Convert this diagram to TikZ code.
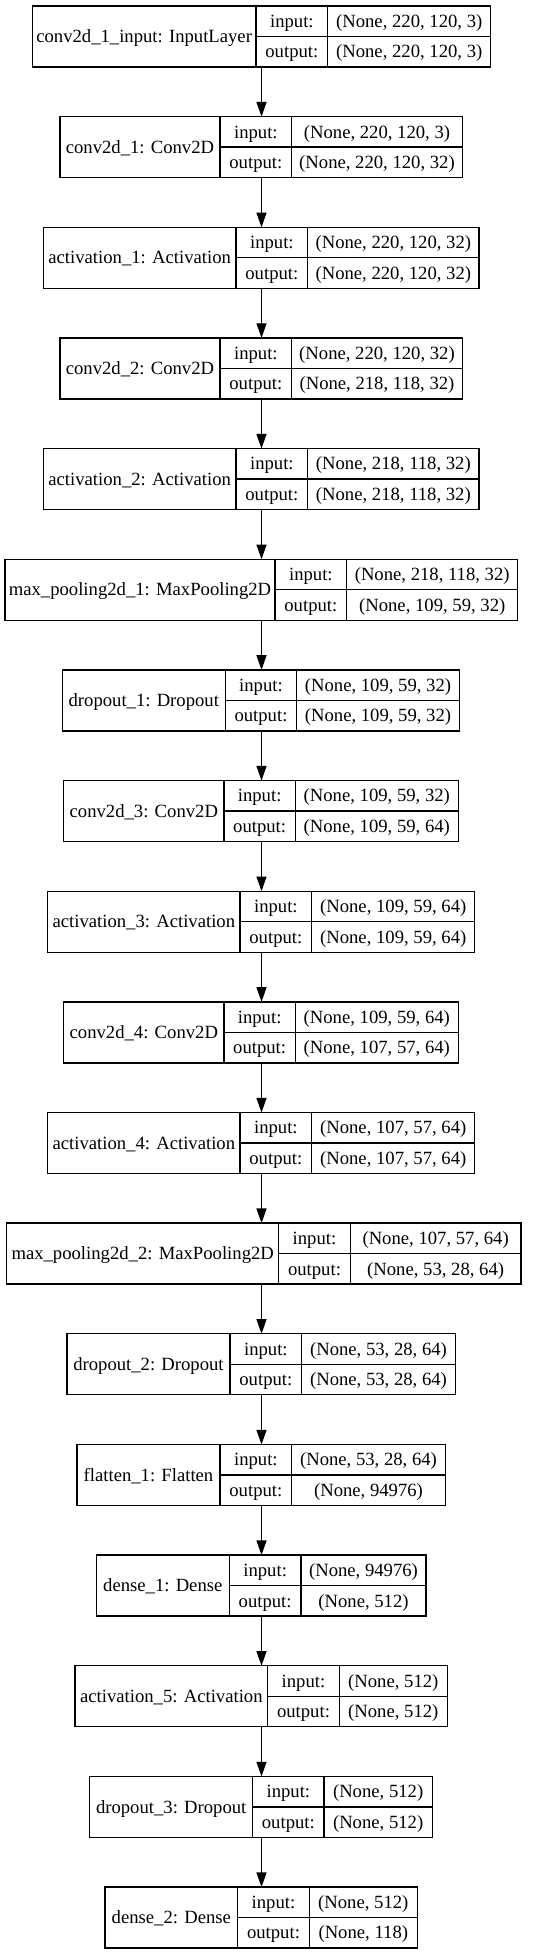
\documentclass[tikz,border=0pt]{standalone}
\usepackage{fontspec}
\setmainfont{Liberation Serif}
\usepackage{tikz}
\usetikzlibrary{arrows.meta}
\tikzset{
	cell/.style={draw,line width=1pt,inner sep=0pt,outer sep=0pt,anchor=north west,
		font=\fontsize{14}{16}\selectfont,text height=11pt,text depth=1.8pt},
	name cell/.style={cell,minimum height=45.75pt},
	half cell/.style={cell,minimum height=22.875pt}
}

\begin{document}
\begin{tikzpicture}[x=0.75pt,y=-0.75pt,>={Triangle[length=11pt,width=7.5pt]}]
	\useasboundingbox (0,0) rectangle (535,1955);
	% one record per layer: left edge, two dividers, right edge
	\foreach \k/\xl/\a/\b/\xr/\nm/\vin/\vout in {
		1/32.3/256/327.7/490.7/{conv2d\_1\_input: InputLayer}/{(None, 220, 120, 3)}/{(None, 220, 120, 3)},
		2/60/220/291.7/462.3/{conv2d\_1: Conv2D}/{(None, 220, 120, 3)}/{(None, 220, 120, 32)},
		3/43.3/236/307.7/479/{activation\_1: Activation}/{(None, 220, 120, 32)}/{(None, 220, 120, 32)},
		4/60/220/291.7/462.3/{conv2d\_2: Conv2D}/{(None, 220, 120, 32)}/{(None, 218, 118, 32)},
		5/43.3/236/307.7/479/{activation\_2: Activation}/{(None, 218, 118, 32)}/{(None, 218, 118, 32)},
		6/5/275/346.7/517.7/{max\_pooling2d\_1: MaxPooling2D}/{(None, 218, 118, 32)}/{(None, 109, 59, 32)},
		7/62.3/225.3/296.7/459.3/{dropout\_1: Dropout}/{(None, 109, 59, 32)}/{(None, 109, 59, 32)},
		8/63.7/224/295.3/458.3/{conv2d\_3: Conv2D}/{(None, 109, 59, 32)}/{(None, 109, 59, 64)},
		9/47.7/240/311.7/474.7/{activation\_3: Activation}/{(None, 109, 59, 64)}/{(None, 109, 59, 64)},
		10/63.7/224/295.3/458.3/{conv2d\_4: Conv2D}/{(None, 109, 59, 64)}/{(None, 107, 57, 64)},
		11/47.7/240/311.7/474.7/{activation\_4: Activation}/{(None, 107, 57, 64)}/{(None, 107, 57, 64)},
		12/6.7/278.7/350.3/521/{max\_pooling2d\_2: MaxPooling2D}/{(None, 107, 57, 64)}/{(None, 53, 28, 64)},
		13/67/230/301.7/455.3/{dropout\_2: Dropout}/{(None, 53, 28, 64)}/{(None, 53, 28, 64)},
		14/77/220/291.7/445.3/{flatten\_1: Flatten}/{(None, 53, 28, 64)}/{(None, 94976)},
		15/96.3/229.3/301/426/{dense\_1: Dense}/{(None, 94976)}/{(None, 512)},
		16/75/267.7/339.3/447.3/{activation\_5: Activation}/{(None, 512)}/{(None, 512)},
		17/89.7/252.7/324/432.3/{dropout\_3: Dropout}/{(None, 512)}/{(None, 512)},
		18/105/237.7/309.3/417.3/{dense\_2: Dense}/{(None, 512)}/{(None, 118)}}{
		\pgfmathsetmacro\yt{6+(\k-1)*110.65}
		\pgfmathsetmacro\wn{(\a-\xl)*0.75}
		\pgfmathsetmacro\wl{(\b-\a)*0.75}
		\pgfmathsetmacro\wv{(\xr-\b)*0.75}
		\node [name cell,minimum width=\wn pt] (n\k) at (\xl,\yt) {\nm};
		\node [half cell,minimum width=\wl pt] (i\k) at (n\k.north east) {input:};
		\node [half cell,minimum width=\wl pt] (o\k) at (i\k.south west) {output:};
		\node [half cell,minimum width=\wv pt] (vi\k) at (i\k.north east) {\vin};
		\node [half cell,minimum width=\wv pt] (vo\k) at (o\k.north east) {\vout};
		\coordinate (t\k) at (261.5,\yt);
		\coordinate (b\k) at (261.5,\yt+61);
	}
	\foreach \k [evaluate=\k as \kk using int(\k+1)] in {1,...,17}
		\draw [->,line width=1pt] (b\k) -- (t\kk);
\end{tikzpicture}
\end{document}
